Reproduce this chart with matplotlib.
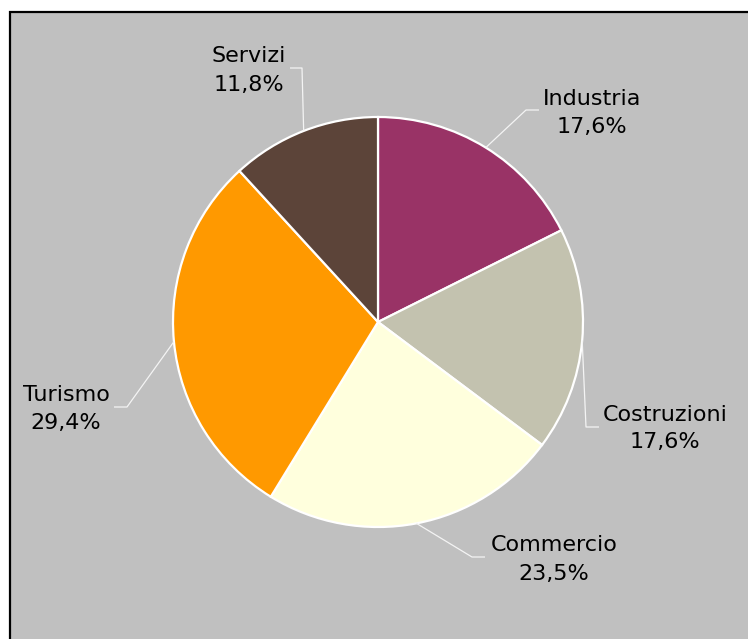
import numpy as np
import matplotlib
matplotlib.use('Agg')
import matplotlib.pyplot as plt
from matplotlib.patches import Rectangle

# ---- data ----
categories = ['Industria', 'Costruzioni', 'Commercio', 'Turismo', 'Servizi']
values = [17.6, 17.6, 23.5, 29.4, 11.8]
pct_labels = ['17,6%', '17,6%', '23,5%', '29,4%', '11,8%']

# ---- style / layout ----
colors = ['#993366', '#C3C2AF', '#FFFFDD', '#FF9900', '#5C4439']
W, H = 748, 639
CX, CY, R = 378, 322, 205
# label centre x, baseline of line 1, baseline of line 2, elbow point, leader end
label_layout = {
    'Industria':   dict(x=592, y1=105, y2=133, elbow=(526, 110), end=(539, 110)),
    'Costruzioni': dict(x=665, y1=421, y2=448, elbow=(586, 427), end=(599, 427)),
    'Commercio':   dict(x=554, y1=551, y2=580, elbow=(472, 557), end=(485, 557)),
    'Turismo':     dict(x=66,  y1=401, y2=429, elbow=(127, 407), end=(114, 407)),
    'Servizi':     dict(x=249, y1=62,  y2=91,  elbow=(302, 68),  end=(290, 68)),
}

fig = plt.figure(figsize=(W / 100, H / 100), dpi=100, facecolor='white')
ax = fig.add_axes([0, 0, 1, 1])
ax.set_xlim(0, W)
ax.set_ylim(H, 0)
ax.set_aspect('equal')
ax.axis('off')

ax.add_patch(Rectangle((10, 12), W + 50, H + 50, facecolor='#C0C0C0',
                       edgecolor='black', linewidth=1.6, zorder=0))

# y axis inverted -> counterclock in data = clockwise on screen; -90 = top
wedges, _ = ax.pie(values, colors=colors, startangle=-90, counterclock=True,
                   center=(CX, CY), radius=R, frame=True,
                   wedgeprops=dict(edgecolor='white', linewidth=1.6))
ax.set_xlim(0, W)
ax.set_ylim(H, 0)
ax.axis('off')

for w, cat, pct in zip(wedges, categories, pct_labels):
    mid = np.deg2rad((w.theta1 + w.theta2) / 2)
    sx = CX + R * np.cos(mid)
    sy = CY + R * np.sin(mid)
    L = label_layout[cat]
    ex, ey = L['elbow']
    tx, ty = L['end']
    ax.plot([sx, ex, tx], [sy, ey, ty], color='#F4F4F4', lw=0.9, zorder=3,
            solid_capstyle='butt')
    ax.text(L['x'], L['y1'], cat, ha='center', va='baseline', fontsize=16,
            family='DejaVu Sans', color='black')
    ax.text(L['x'], L['y2'], pct, ha='center', va='baseline', fontsize=16,
            family='DejaVu Sans', color='black')

fig.savefig('out.png', dpi=100, facecolor='white')
